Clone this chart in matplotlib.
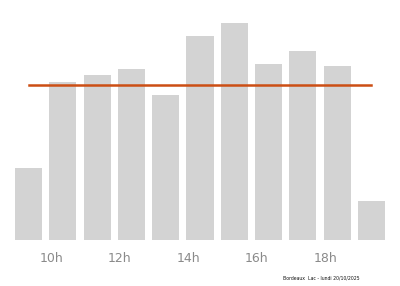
import numpy as np
import matplotlib
matplotlib.use("Agg")
import matplotlib.pyplot as plt

# fréquentation par heure (estimée, 100 = pic)
heures = [9, 10, 11, 12, 13, 14, 15, 16, 17, 18, 19]
affluence = [33, 73, 76, 79, 67, 94, 100, 81, 87, 80, 18]
ticks = [10, 12, 14, 16, 18]
tick_labels = ["10h", "12h", "14h", "16h", "18h"]
legende = "Bordeaux  Lac - lundi 20/10/2025"

fig = plt.figure(figsize=(4, 2.86), dpi=100)
ax = fig.add_axes([0, 46 / 286, 1, 240 / 286])

ax.bar(heures, affluence, width=0.79, color="#d3d3d3")
moyenne = np.mean(affluence)
ax.plot([heures[0], heures[-1]], [moyenne, moyenne], color="#cc4e14", lw=1.8)

ax.set_xlim(9 - 28.5 / 34.3, 9 + (400 - 28.5) / 34.3)
ax.set_ylim(0, 240 / 2.17)
# les libellés sont décalés vers la gauche dans l'original
ax.set_xticks([t - 0.34 for t in ticks])
ax.set_xticklabels(tick_labels)
ax.tick_params(axis="x", length=0, pad=9, labelsize=9, labelcolor="#8a8a8a")
ax.set_yticks([])
for s in ax.spines.values():
    s.set_visible(False)

fig.text(360 / 400, 8 / 286, legende, ha="right", va="center", fontsize=3.3, color="#111111")

fig.savefig("out.png", dpi=100)
